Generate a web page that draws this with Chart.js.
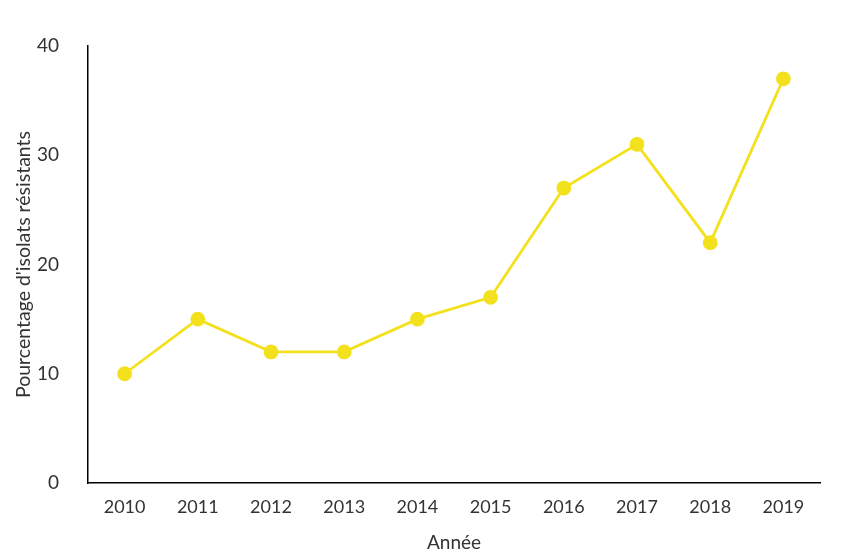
<!DOCTYPE html>
<html>
<head>
<meta charset="utf-8">
<script src="https://cdn.jsdelivr.net/npm/chart.js@4"></script>
<style>
  html, body { margin: 0; padding: 0; background: #fff; }
  #wrap { width: 856px; height: 558px; }
</style>
</head>
<body>
<div id="wrap"><canvas id="chart" width="856" height="558"></canvas></div>
<script>
const years = ['2010', '2011', '2012', '2013', '2014', '2015', '2016', '2017', '2018', '2019'];
const resistantPct = [10, 15, 12, 12, 15, 17, 27, 31, 22, 37];
const yTicks = [0, 10, 20, 30, 40];

const lineColor = '#f4e11e';
const textColor = '#333333';

const ctx = document.getElementById('chart').getContext('2d');
new Chart(ctx, {
    type: 'line',
    data: {
        labels: years,
        datasets: [{
            data: resistantPct,
            borderColor: lineColor,
            backgroundColor: lineColor,
            borderWidth: 2.8,
            pointRadius: 6,
            pointHoverRadius: 6,
            tension: 0,
            fill: false
        }]
    },
    options: {
        responsive: false,
        animation: false,
        layout: { padding: { top: 46, right: 36, left: 0, bottom: 0 } },
        plugins: { legend: { display: false }, tooltip: { enabled: false } },
        scales: {
            x: {
                offset: true,
                grid: { display: false },
                border: { display: true, color: '#000', width: 1.5 },
                ticks: { color: textColor, font: { family: 'Lato', size: 18 }, padding: 5 },
                title: {
                    display: true, text: 'Année', color: textColor,
                    font: { family: 'Lato', size: 19 }, padding: { top: 4, bottom: 4 }
                },
                afterFit: scale => { scale.height = 75; }
            },
            y: {
                min: 0,
                max: 40,
                afterBuildTicks: scale => { scale.ticks = yTicks.map(v => ({ value: v })); },
                grid: { display: false },
                border: { display: true, color: '#000', width: 1.5 },
                ticks: { color: textColor, font: { family: 'Lato', size: 19 }, padding: 21 },
                title: {
                    display: true, text: "Pourcentage d'isolats résistants", color: textColor,
                    font: { family: 'Lato', size: 19.5 }, padding: { top: 12, bottom: 4 }
                },
                afterFit: scale => { scale.width = 88; }
            }
        }
    }
});
</script>
</body>
</html>
